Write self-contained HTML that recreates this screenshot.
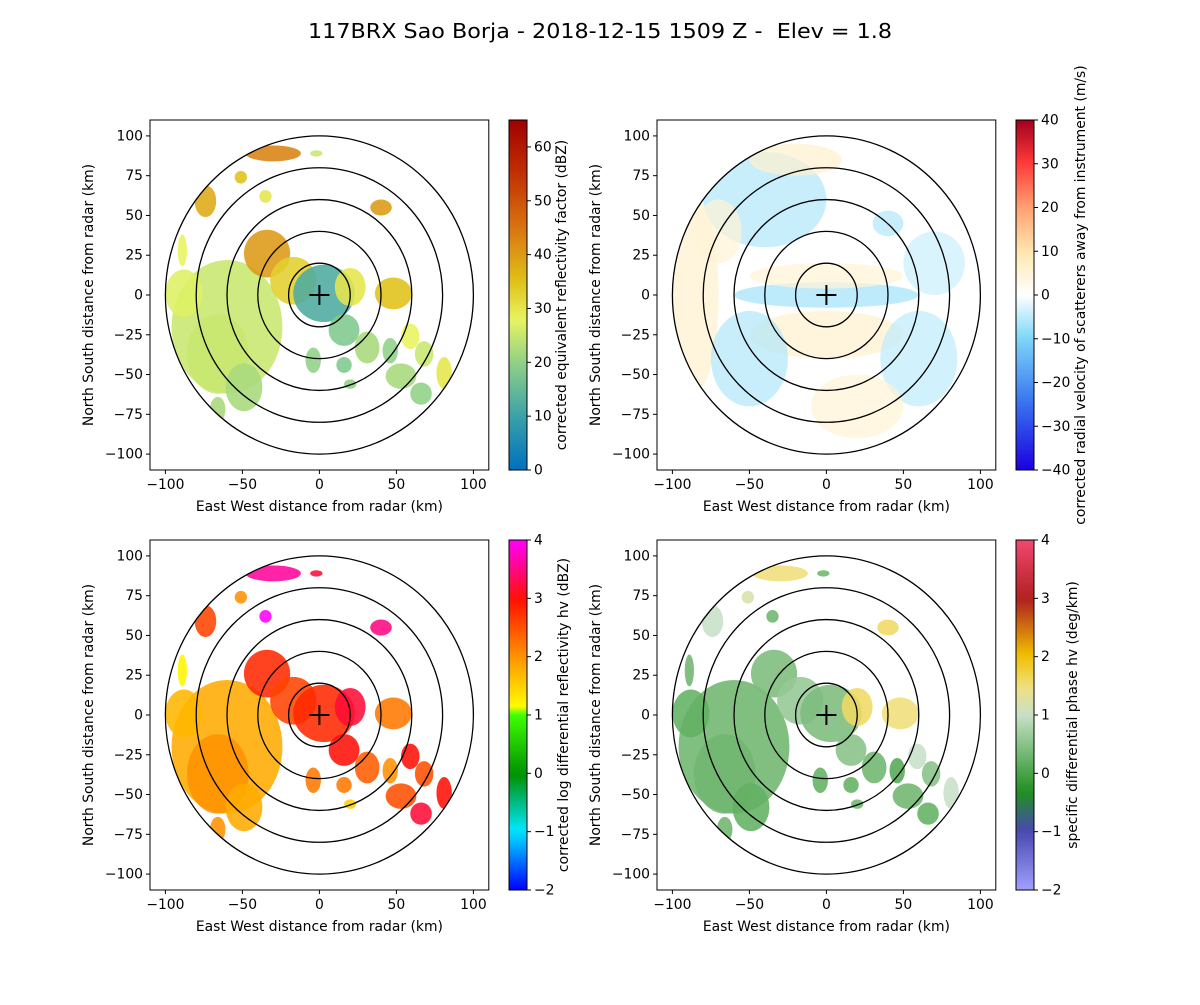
<!DOCTYPE html>
<html><head><meta charset="utf-8"><style>
body{margin:0;background:#fff;}
svg text{font-family:"DejaVu Sans","Liberation Sans",sans-serif;fill:#000;}
</style></head><body>
<svg id="fig" width="1200" height="1000" viewBox="0 0 1200 1000" xmlns="http://www.w3.org/2000/svg">
<rect width="1200" height="1000" fill="#fff"/>
<text x="600" y="38" font-size="20" text-anchor="middle" textLength="584" lengthAdjust="spacingAndGlyphs">117BRX Sao Borja - 2018-12-15 1509 Z -&#160; Elev = 1.8</text>
</svg>
<script>
// echo regions in km: x, y, rx, ry
const echoX  = [-60,-88,-66,-49,-34,-17,3,20,48,16,31,-4,16,46,59,68,53,66,81,-30,-35,-74,40,-89,20,-2,-51,-66];
const echoY  = [-20,1,-37,-58,26,9,1,5,1,-22,-33,-41,-44,-35,-26,-37,-51,-62,-49,89,62,59,55,28,-56,89,74,-72];
const echoRX = [36,12,20,12,15,15,20,10,12,10,8,5,5,5,6,6,10,7,5,18,4,7,7,3,4,4,4,5];
const echoRY = [42,15,25,15,15,15,18,12,10,10,10,8,5,8,8,8,8,7,10,5,4,10,5,10,3,2,4,8];
const reflValues = [25,27,25,22,40,33,12,30,35,18,22,20,18,20,28,25,22,20,30,43,30,38,40,28,20,25,35,22];
const zdrValues  = [1.8,1.7,2.0,1.8,2.8,2.6,2.8,3.2,2.2,3.0,2.4,2.2,2.2,2.0,3.0,2.5,2.5,3.2,3.0,3.6,4.0,2.6,3.5,1.2,1.5,3.2,2.0,2.0];
const kdpValues  = [0.3,0.2,0.3,0.2,0.4,0.6,0.4,1.6,1.5,0.5,0.3,0.2,0.2,0.1,1.0,0.5,0.3,0.2,1.0,1.5,0.3,1.0,1.6,0.3,0.3,0.3,1.2,0.3];
// velocity regions
const velX  = [-85,-40,0,0,0,-50,60,20,-20,40,-70,70];
const velY  = [0,60,0,12,-25,-40,-40,-70,85,45,40,20];
const velRX = [15,40,60,50,50,25,25,30,30,10,15,20];
const velRY = [60,30,8,8,15,30,30,20,10,8,20,20];
const velValues = [6,-6,-7,5,6,-6,-5,5,6,-6,5,-4];
const xTicks = [-100,-50,0,50,100];
const yTicks = [-100,-75,-50,-25,0,25,50,75,100];
const ringRadii = [20,40,60,80,100];

const NS='http://www.w3.org/2000/svg';
const svg=document.getElementById('fig');
function mk(tag,attrs,parent){const e=document.createElementNS(NS,tag);for(const k in attrs)e.setAttribute(k,attrs[k]);(parent||svg).appendChild(e);return e;}
function hex(h){return [parseInt(h.substr(1,2),16),parseInt(h.substr(3,2),16),parseInt(h.substr(5,2),16)];}
function cmap(stops,t){t=Math.max(0,Math.min(1,t));for(let i=1;i<stops.length;i++){if(t<=stops[i][0]){const a=stops[i-1],b=stops[i];const f=(t-a[0])/(b[0]-a[0]||1);const ca=hex(a[1]),cb=hex(b[1]);return 'rgb('+ca.map((v,j)=>Math.round(v+(cb[j]-v)*f)).join(',')+')';}}return stops[stops.length-1][1];}
const cmRefl=[[0,'#0070c0'],[0.15,'#3aa0a8'],[0.3,'#8ccf88'],[0.43,'#e8f460'],[0.54,'#e0c018'],[0.7,'#d87010'],[0.85,'#c03000'],[1,'#a00000']];
const cmVel=[[0,'#1a00e0'],[0.2,'#3a78f0'],[0.38,'#80d8f8'],[0.5,'#ffffff'],[0.62,'#ffe8b0'],[0.75,'#ffa070'],[0.88,'#ff3838'],[1,'#a00020']];
const cmZdr=[[0,'#0000ff'],[0.17,'#00e8ff'],[0.33,'#009000'],[0.5,'#40ff00'],[0.5,'#a0ff00'],[0.52,'#ffff00'],[0.67,'#ff9000'],[0.83,'#ff1000'],[1,'#ff00ff']];
const cmKdp=[[0,'#a0a0ff'],[0.17,'#4848b0'],[0.28,'#209020'],[0.5,'#c8e0c8'],[0.58,'#f0e080'],[0.67,'#f0c000'],[0.83,'#b02020'],[1,'#f04870']];

const panels=[
 {name:'reflectivity',x:150,y:120,vmin:0,vmax:65,cm:cmRefl,cbTicks:[0,10,20,30,40,50,60],label:'corrected equivalent reflectivity factor (dBZ)',vals:reflValues,lx:566,op:0.88},
 {name:'velocity',x:657,y:120,vmin:-40,vmax:40,cm:cmVel,cbTicks:[-40,-30,-20,-10,0,10,20,30,40],label:'corrected radial velocity of scatterers away from instrument (m/s)',vals:null,lx:1085,op:0.7},
 {name:'zdr',x:150,y:540,vmin:-2,vmax:4,cm:cmZdr,cbTicks:[-2,-1,0,1,2,3,4],label:'corrected log differential reflectivity hv (dBZ)',vals:zdrValues,lx:568,op:0.88},
 {name:'kdp',x:657,y:540,vmin:-2,vmax:4,cm:cmKdp,cbTicks:[-2,-1,0,1,2,3,4],label:'specific differential phase hv (deg/km)',vals:kdpValues,lx:1077,op:0.88}
];
const W=338.8,H=350,FS=13.9;
function fmt(v){return v<0?'\u2212'+(-v):''+v;}
panels.forEach(p=>{
 const sx=v=>p.x+(v+110)/220*W, sy=v=>p.y+H-(v+110)/220*H;
 const g=mk('g',{});
 
 
 const clipId='clip-'+p.name;
 const cp=mk('clipPath',{id:clipId},g);mk('ellipse',{cx:sx(0),cy:sy(0),rx:sx(100)-sx(0),ry:sy(0)-sy(100)},cp);
 const field=mk('g',{'clip-path':'url(#'+clipId+')'},g);
 
 
 const X=p.vals?echoX:velX,Y=p.vals?echoY:velY,RX=p.vals?echoRX:velRX,RY=p.vals?echoRY:velRY,V=p.vals||velValues;
 for(let i=0;i<X.length;i++){
  const e=mk('ellipse',{cx:sx(X[i]),cy:sy(Y[i]),rx:sx(RX[i])-sx(0),ry:sy(0)-sy(RY[i]),fill:cmap(p.cm,(V[i]-p.vmin)/(p.vmax-p.vmin)),opacity:p.op},field);
  
  
 }
 ringRadii.forEach(r=>{
  const c=mk('ellipse',{cx:sx(0),cy:sy(0),rx:sx(r)-sx(0),ry:sy(0)-sy(r),fill:'none',stroke:'#000','stroke-width':1.3},g);
  
  
 });
 const cr=mk('path',{d:`M${sx(0)-10},${sy(0)}h20M${sx(0)},${sy(0)-10}v20`,stroke:'#000','stroke-width':2},g);
 
 
 const fr=mk('rect',{x:p.x,y:p.y,width:W,height:H,fill:'none',stroke:'#000','stroke-width':1},g);
 
 
 xTicks.forEach(t=>{mk('line',{x1:sx(t),x2:sx(t),y1:p.y+H,y2:p.y+H+4,stroke:'#000'},g);
  const tx=mk('text',{x:sx(t),y:p.y+H+19,'font-size':FS,'text-anchor':'middle'},g);tx.textContent=fmt(t);
  
  });
 yTicks.forEach(t=>{mk('line',{x1:p.x-4,x2:p.x,y1:sy(t),y2:sy(t),stroke:'#000'},g);
  const tx=mk('text',{x:p.x-7,y:sy(t)+4.5,'font-size':FS,'text-anchor':'end'},g);tx.textContent=fmt(t);
  
  });
 const xl=mk('text',{x:p.x+W/2,y:p.y+H+41,'font-size':FS,'text-anchor':'middle'},g);xl.textContent='East West distance from radar (km)';
 
 
 const yl=mk('text',{x:0,y:0,'font-size':FS,'text-anchor':'middle',transform:`translate(${p.x-57},${p.y+H/2}) rotate(-90)`},g);yl.textContent='North South distance from radar (km)';
 
 
 // colorbar
 const cbx=p.x+359,cbw=18;
 const gid='grad-'+p.name;
 const lg=mk('linearGradient',{id:gid,x1:0,y1:1,x2:0,y2:0},g);
 for(let k=0;k<=40;k++){mk('stop',{offset:k/40,'stop-color':cmap(p.cm,k/40)},lg);}
 const cb=mk('rect',{x:cbx,y:p.y,width:cbw,height:H,fill:'url(#'+gid+')',stroke:'#000','stroke-width':1},g);
 
 
 p.cbTicks.forEach(t=>{const yy=p.y+H-(t-p.vmin)/(p.vmax-p.vmin)*H;
  mk('line',{x1:cbx+cbw,x2:cbx+cbw+4,y1:yy,y2:yy,stroke:'#000'},g);
  const tx=mk('text',{x:cbx+cbw+7,y:yy+4.5,'font-size':FS},g);tx.textContent=fmt(t);
  
  });
 const cl=mk('text',{x:0,y:0,'font-size':FS,'text-anchor':'middle',transform:`translate(${p.lx},${p.y+H/2}) rotate(-90)`},g);cl.textContent=p.label;
 
 
});
</script>
</body></html>
